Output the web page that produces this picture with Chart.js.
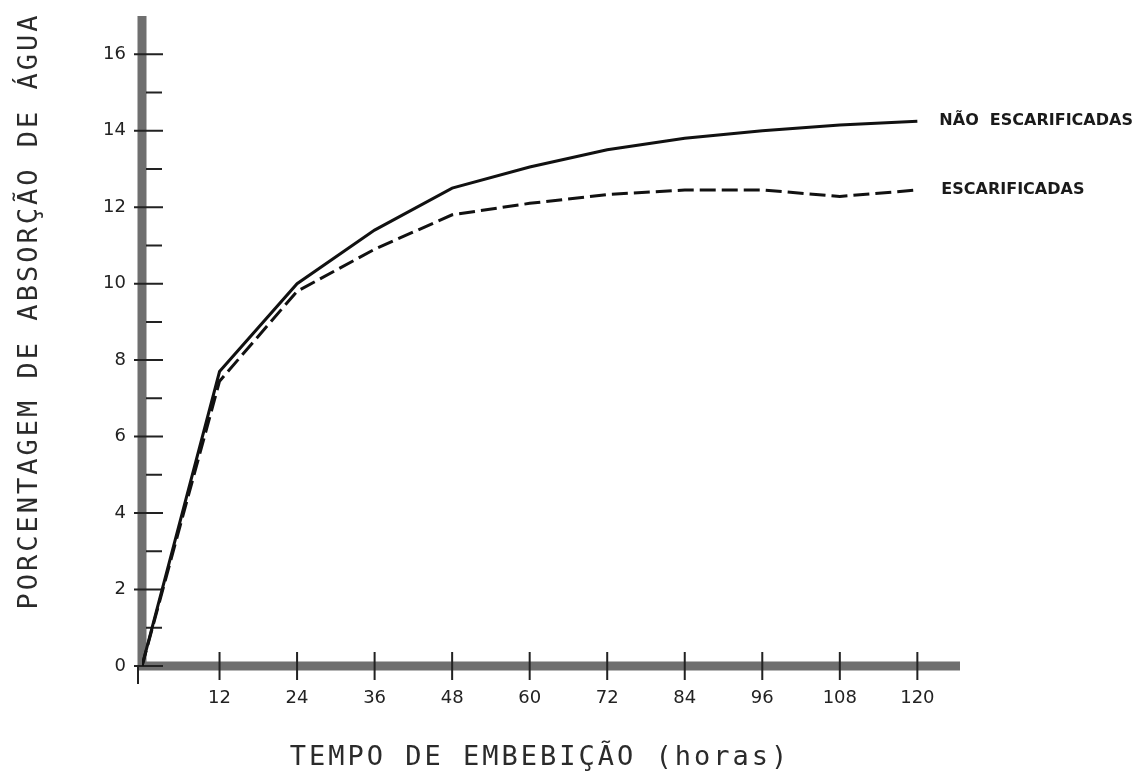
<!DOCTYPE html>
<html>
<head>
<meta charset="utf-8">
<script src="https://cdn.jsdelivr.net/npm/chart.js@4.4.1/dist/chart.umd.min.js"></script>
<style>
  html, body { margin: 0; padding: 0; background: #fff; }
  #wrap { width: 1147px; height: 777px; }
</style>
</head>
<body>
<div id="wrap"><canvas id="c" width="1147" height="777"></canvas></div>
<script>
// water uptake of seeds over imbibition time, two treatments
var hours = [0, 12, 24, 36, 48, 60, 72, 84, 96, 108, 120];
var naoEscarificadas = [0, 7.7, 10.0, 11.4, 12.5, 13.05, 13.5, 13.8, 14.0, 14.15, 14.25];
var escarificadas = [0, 7.45, 9.8, 10.9, 11.8, 12.1, 12.33, 12.45, 12.45, 12.28, 12.45];
var seriesNames = ['NÃO  ESCARIFICADAS', 'ESCARIFICADAS'];

var xTicks = [12, 24, 36, 48, 60, 72, 84, 96, 108, 120];
var yTicks = [0, 2, 4, 6, 8, 10, 12, 14, 16];
var yMinorTicks = [1, 3, 5, 7, 9, 11, 13, 15];

var xTitle = 'TEMPO DE EMBEBIÇÃO (horas)';
var yTitle = 'PORCENTAGEM DE ABSORÇÃO DE ÁGUA';

function points(ys) {
    return hours.map(function (h, i) { return { x: h, y: ys[i] }; });
}

// thick hand-drawn style axes, ticks crossing the axis, titles and end labels
var axesPlugin = {
    id: 'axesPlugin',
    beforeDatasetsDraw: function (chart) {
        var ctx = chart.ctx;
        var xs = chart.scales.x, ys = chart.scales.y;
        var x0 = xs.getPixelForValue(0), y0 = ys.getPixelForValue(0);
        ctx.save();
        ctx.strokeStyle = '#6f6f6f';
        ctx.lineWidth = 9;
        ctx.beginPath();
        ctx.moveTo(x0, y0 + 4);
        ctx.lineTo(x0, ys.getPixelForValue(ys.max));
        ctx.moveTo(x0 - 4, y0);
        ctx.lineTo(xs.getPixelForValue(xs.max), y0);
        ctx.stroke();

        ctx.strokeStyle = '#222';
        ctx.lineWidth = 2;
        ctx.beginPath();
        yTicks.forEach(function (v) {
            var p = ys.getPixelForValue(v);
            ctx.moveTo(x0 - 8, p);
            ctx.lineTo(x0 + 21, p);
        });
        yMinorTicks.forEach(function (v) {
            var p = ys.getPixelForValue(v);
            ctx.moveTo(x0 + 4, p);
            ctx.lineTo(x0 + 20, p);
        });
        xTicks.forEach(function (v) {
            var p = xs.getPixelForValue(v);
            ctx.moveTo(p, y0 - 14);
            ctx.lineTo(p, y0 + 14);
        });
        ctx.moveTo(x0 - 4, y0);
        ctx.lineTo(x0 - 4, y0 + 18);
        ctx.stroke();
        ctx.restore();
    },
    afterDraw: function (chart) {
        var ctx = chart.ctx;
        var xs = chart.scales.x, ys = chart.scales.y;
        ctx.save();
        ctx.fillStyle = '#2b2b2b';
        ctx.font = '27px "DejaVu Sans Mono"';
        ctx.letterSpacing = '3px';
        ctx.textAlign = 'center';
        ctx.textBaseline = 'alphabetic';
        ctx.fillText(xTitle, 540, 765);

        ctx.translate(37, 311);
        ctx.rotate(-Math.PI / 2);
        ctx.fillText(yTitle, 0, 0);
        ctx.restore();

        ctx.save();
        ctx.fillStyle = '#1a1a1a';
        ctx.font = 'bold 16px "DejaVu Sans"';
        ctx.textAlign = 'left';
        ctx.textBaseline = 'middle';
        var last = hours.length - 1;
        var lx = xs.getPixelForValue(hours[last]) + 22;
        ctx.fillText(seriesNames[0], lx, ys.getPixelForValue(naoEscarificadas[last]));
        ctx.fillText(seriesNames[1], lx + 2, ys.getPixelForValue(escarificadas[last]));
        ctx.restore();
    }
};

new Chart(document.getElementById('c'), {
    type: 'line',
    data: {
        datasets: [{
            label: seriesNames[0],
            data: points(naoEscarificadas),
            borderColor: '#111',
            borderWidth: 3,
            pointRadius: 0,
            tension: 0,
            fill: false
        }, {
            label: seriesNames[1],
            data: points(escarificadas),
            borderColor: '#111',
            borderWidth: 3,
            borderDash: [16, 6],
            pointRadius: 0,
            tension: 0,
            fill: false
        }]
    },
    options: {
        responsive: false,
        animation: false,
        layout: { padding: { left: 0, right: 187, top: 16, bottom: 0 } },
        plugins: {
            legend: { display: false },
            tooltip: { enabled: false }
        },
        scales: {
            x: {
                type: 'linear',
                min: 0,
                max: 126.6,
                grid: { display: false, drawTicks: false },
                border: { display: false },
                afterBuildTicks: function (scale) {
                    scale.ticks = xTicks.map(function (v) { return { value: v }; });
                },
                afterFit: function (scale) {
                    scale.height = 111;
                    scale.paddingLeft = 0;
                    scale.paddingRight = 0;
                },
                ticks: {
                    padding: 22,
                    color: '#222',
                    maxRotation: 0,
                    autoSkip: false,
                    font: { family: 'DejaVu Sans', size: 18 }
                }
            },
            y: {
                type: 'linear',
                min: 0,
                max: 17,
                grid: { display: false, drawTicks: false },
                border: { display: false },
                afterBuildTicks: function (scale) {
                    scale.ticks = yTicks.map(function (v) { return { value: v }; });
                },
                afterFit: function (scale) {
                    scale.width = 142;
                    scale.paddingTop = 0;
                    scale.paddingBottom = 0;
                },
                ticks: {
                    padding: 16,
                    color: '#222',
                    autoSkip: false,
                    font: { family: 'DejaVu Sans', size: 18 }
                }
            }
        }
    },
    plugins: [axesPlugin]
});
</script>
</body>
</html>
